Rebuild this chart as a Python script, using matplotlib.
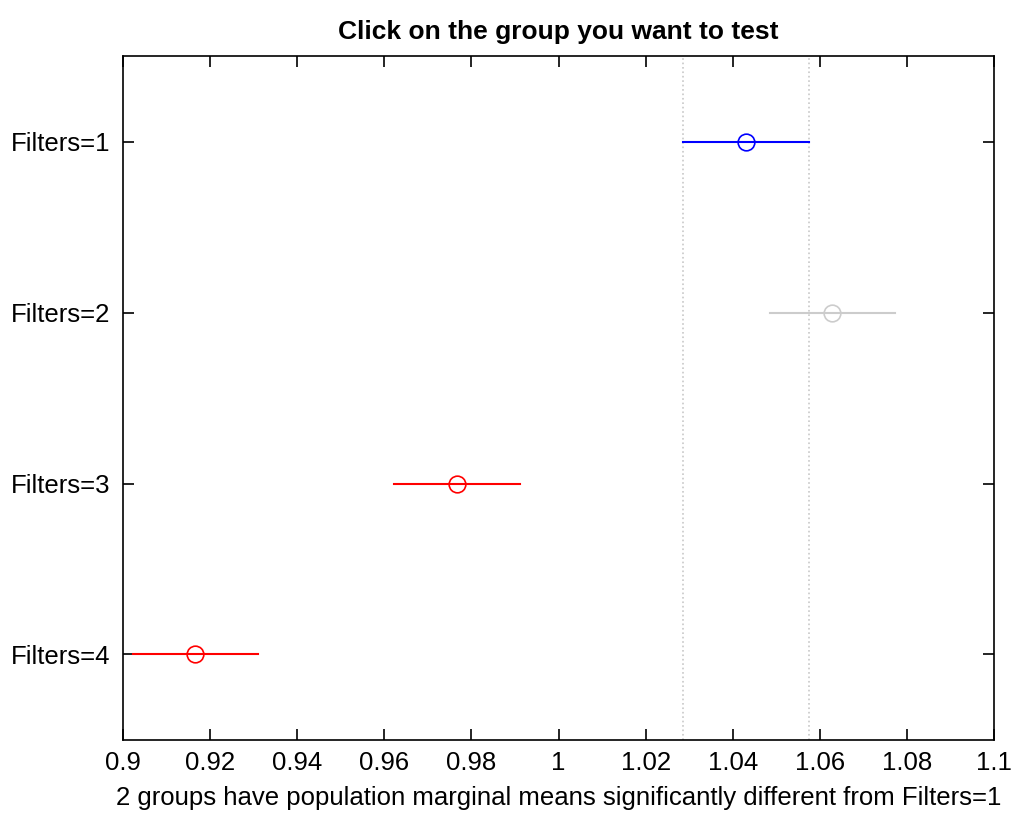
import numpy as np
import matplotlib.pyplot as plt

# group estimates and comparison intervals
groups = ['Filters=1', 'Filters=2', 'Filters=3', 'Filters=4']
means = [1.0430, 1.0629, 0.9767, 0.9166]
half_width = [0.0144, 0.0143, 0.0144, 0.0143]
colors = ['#0000ff', '#cccccc', '#ff0000', '#ff0000']
xticks = [0.9, 0.92, 0.94, 0.96, 0.98, 1.0, 1.02, 1.04, 1.06, 1.08, 1.1]
xticklabels = ['0.9', '0.92', '0.94', '0.96', '0.98', '1', '1.02', '1.04', '1.06', '1.08', '1.1']

plt.rcParams['font.family'] = ['Liberation Sans', 'DejaVu Sans']

fig = plt.figure(figsize=(10.13, 8.13), dpi=100)
ax = fig.add_axes([0.1214, 0.0898, 0.8599, 0.8413])

ypos = np.arange(1, len(groups) + 1)
sel = 0
lo_sel = means[sel] - half_width[sel]
hi_sel = means[sel] + half_width[sel]
ax.axvline(lo_sel, color='#c8c8c8', linestyle=':', linewidth=1.2, zorder=1)
ax.axvline(hi_sel, color='#c8c8c8', linestyle=':', linewidth=1.2, zorder=1)

for y, m, h, c in zip(ypos, means, half_width, colors):
    ax.plot([m - h, m + h], [y, y], color=c, linewidth=1.5, zorder=2)
    ax.plot(m, y, 'o', markersize=12, markerfacecolor='none',
            markeredgecolor=c, markeredgewidth=1.2, zorder=3)

ax.set_xlim(0.9, 1.1)
ax.set_ylim(len(groups) + 0.5, 0.5)
ax.set_xticks(xticks)
ax.set_xticklabels(xticklabels)
ax.set_yticks(ypos)
ax.set_yticklabels(groups)
ax.tick_params(direction='in', length=8, width=1.2, top=True, right=True,
               labelsize=18.5)
ax.tick_params(axis='x', pad=8)
ax.tick_params(axis='y', pad=9)
for s in ax.spines.values():
    s.set_linewidth(1.2)

ax.set_title('Click on the group you want to test', fontsize=19,
             fontweight='bold', pad=12)
ax.set_xlabel('2 groups have population marginal means significantly different from Filters=1',
              fontsize=18.5, labelpad=8)

fig.savefig('out.png', dpi=100)
